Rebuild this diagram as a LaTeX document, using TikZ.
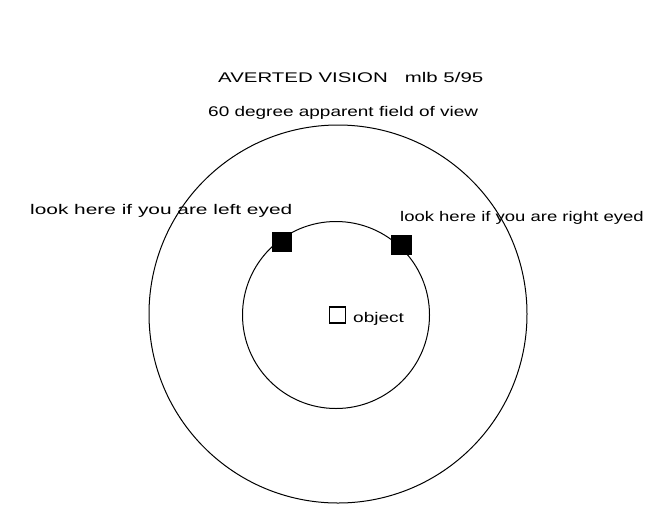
\documentclass[tikz,border=0pt]{standalone}
\usepackage{fontspec}
\setmainfont{Liberation Sans}
\newcommand{\wtxt}[2]{\scalebox{#1}[1]{#2}}
\begin{document}
\begin{tikzpicture}[x=1pt,y=-1pt,
  lbl/.style={inner sep=0pt, anchor=base west, font=\fontsize{14}{16}\selectfont},
  ring/.style={draw=black, line width=1pt, circle, inner sep=0pt},
  blk/.style={fill=black, minimum height=20pt, inner sep=0pt}]
\useasboundingbox[fill=white] (0,0) rectangle (647,507);
% circles
\node[ring, minimum size=378pt] (outer) at (338,314) {};
\node[ring, minimum size=187pt] (inner) at (336,315) {};
% markers
\node[blk, minimum width=20pt] (lsq) at (282,242) {};
\node[blk, minimum width=21pt] (rsq) at (401,245) {};
\node[draw=black, line width=1.3pt, fill=white, minimum size=16pt, inner sep=0pt] (obj) at (337.5,315) {};
% texts
\node[lbl] (title) at (218,82) {\wtxt{1.46}{AVERTED VISION\ \ \ mlb 5/95}};
\node[lbl] (fov) at (208,116) {\wtxt{1.355}{60 degree apparent field of view}};
\node[lbl] (left) at (30,214) {\wtxt{1.49}{look here if you are left eyed}};
\node[lbl] (right) at (400,221) {\wtxt{1.32}{look here if you are right eyed}};
\node[lbl] (objtxt) at (353,322) {\wtxt{1.36}{object}};
\end{tikzpicture}
\end{document}
